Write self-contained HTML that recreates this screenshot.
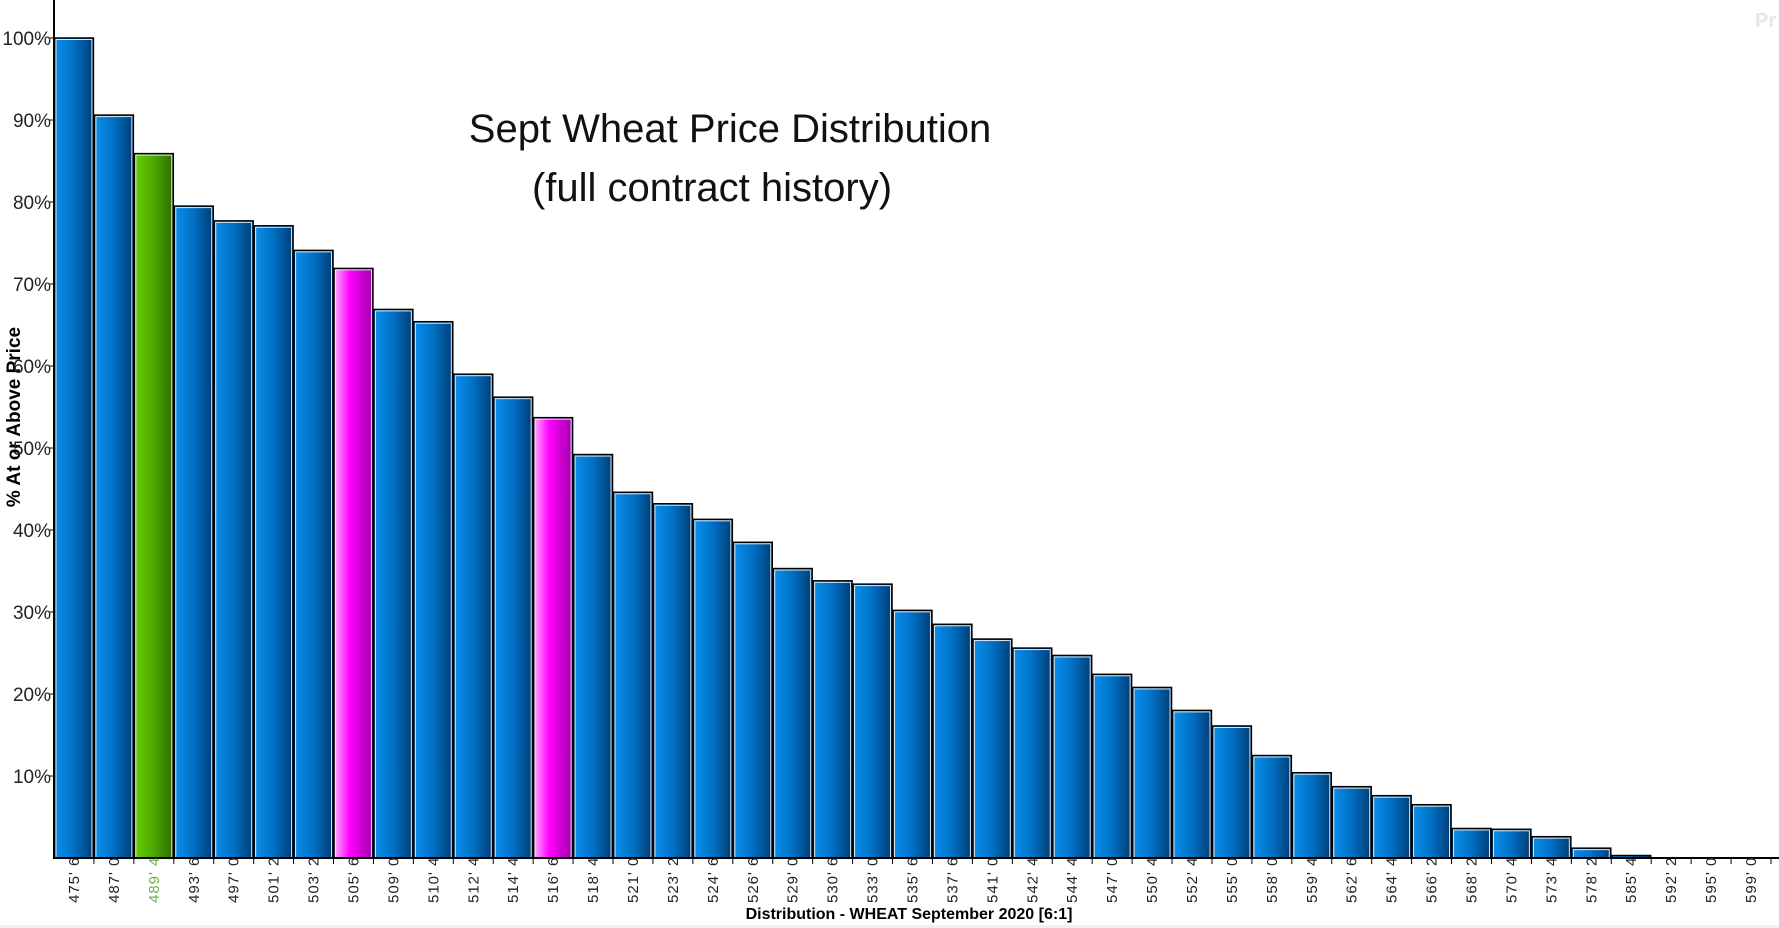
<!DOCTYPE html>
<html><head><meta charset="utf-8"><style>
html,body{margin:0;padding:0;background:#fff;width:1779px;height:928px;overflow:hidden}
svg{display:block;font-family:"Liberation Sans",sans-serif}
</style></head><body>
<svg id="chart" width="1779" height="928" viewBox="0 0 1779 928" xmlns="http://www.w3.org/2000/svg">
<defs>
<linearGradient id="gBlue" x1="0" x2="1" y1="0" y2="0"><stop offset="0" stop-color="#0a90ee"/><stop offset="0.5" stop-color="#0070c4"/><stop offset="1" stop-color="#003c74"/></linearGradient>
<linearGradient id="gGreen" x1="0" x2="1" y1="0" y2="0"><stop offset="0" stop-color="#66d000"/><stop offset="0.5" stop-color="#4ca800"/><stop offset="1" stop-color="#2d6a00"/></linearGradient>
<linearGradient id="gPink" x1="0" x2="1" y1="0" y2="0"><stop offset="0" stop-color="#ffb0ff"/><stop offset="0.4" stop-color="#ff00ff"/><stop offset="1" stop-color="#a000a8"/></linearGradient>
</defs>
<rect x="0" y="925" width="1779" height="3" fill="#f0f0f0"/>
<text x="1755" y="27" font-size="20" font-weight="bold" fill="#e6e6e6">Pr</text>
<text x="730" y="142" font-size="40" text-anchor="middle" fill="#111">Sept Wheat Price Distribution</text>
<text x="712" y="201" font-size="40" text-anchor="middle" fill="#111">(full contract history)</text>
<text transform="translate(20,417) rotate(-90)" font-size="19" font-weight="bold" text-anchor="middle" fill="#000">% At or Above Price</text>
<text x="909" y="919" font-size="16" font-weight="bold" text-anchor="middle" fill="#000">Distribution - WHEAT September 2020  [6:1]</text>
<g id="bars"></g>
<g id="axes"></g>
</svg>
<script>
const categories=["475' 6","487' 0","489' 4","493' 6","497' 0","501' 2","503' 2","505' 6","509' 0","510' 4","512' 4","514' 4","516' 6","518' 4","521' 0","523' 2","524' 6","526' 6","529' 0","530' 6","533' 0","535' 6","537' 6","541' 0","542' 4","544' 4","547' 0","550' 4","552' 4","555' 0","558' 0","559' 4","562' 6","564' 4","566' 2","568' 2","570' 4","573' 4","578' 2","585' 4","592' 2","595' 0","599' 0"];
const values=[100,90.6,85.9,79.5,77.7,77.1,74.1,71.9,66.9,65.4,59.0,56.2,53.7,49.2,44.6,43.2,41.3,38.5,35.3,33.8,33.4,30.2,28.5,26.7,25.6,24.7,22.4,20.8,18.0,16.1,12.5,10.4,8.7,7.6,6.5,3.6,3.5,2.6,1.2,0.3,0,0,0];
const highlights=["","","green","","","","","pink","","","","","pink","","","","","","","","","","","","","","","","","","","","","","","","","","","","","",""];
const yTicks=[10,20,30,40,50,60,70,80,90,100];
const NS="http://www.w3.org/2000/svg";
const X0=54,SLOT=39.93,Y0=858,Y100=38;
function xs(i){return X0+i*SLOT;}
function ys(v){return Y0-(v/100)*(Y0-Y100);}
const bars=document.getElementById('bars'),axes=document.getElementById('axes');
function mk(tag,attrs,parent){const e=document.createElementNS(NS,tag);for(const k in attrs)e.setAttribute(k,attrs[k]);parent.appendChild(e);return e;}
values.forEach((v,i)=>{
  const x=xs(i),y=ys(v),h=Y0-y;
  if(v<=0)return;
  const fill=highlights[i]==='green'?'url(#gGreen)':highlights[i]==='pink'?'url(#gPink)':'url(#gBlue)';
  const r=mk('rect',{x:x+0.5,y:y,width:SLOT-1,height:h,fill:fill,stroke:'#000','stroke-width':1.5},bars);
  
  
  if(h>3){const hl=mk('rect',{x:x+2,y:y+1.5,width:SLOT-4,height:h-2,fill:'none',stroke:'#d8e8f4','stroke-width':1},bars);
  
  }
});
const ya=mk('line',{x1:X0,y1:0,x2:X0,y2:Y0+1,stroke:'#000','stroke-width':2},axes);


const xa=mk('line',{x1:X0,y1:Y0,x2:1779,y2:Y0,stroke:'#000','stroke-width':2},axes);


yTicks.forEach(t=>{
  const y=ys(t);
  const tk=mk('line',{x1:X0-4,y1:y,x2:X0,y2:y,stroke:'#000','stroke-width':1},axes);
  
  
  const lb=mk('text',{x:X0-3,y:y+7,'font-size':19,'text-anchor':'end',fill:'#222'},axes);
  lb.textContent=t+'%';
  
  
});
categories.forEach((c,i)=>{
  const xt=xs(i+1);
  const tk=mk('line',{x1:xt,y1:Y0,x2:xt,y2:Y0+6,stroke:'#000','stroke-width':1},axes);
  
  
  const cx=xs(i)+SLOT/2+5;
  const lb=mk('text',{transform:'translate('+cx+',903) rotate(-90)','font-size':15,'letter-spacing':'1',fill:highlights[i]==='green'?'#6ab04c':'#222'},axes);
  lb.textContent=c;
  
  
});
</script>
</body></html>
